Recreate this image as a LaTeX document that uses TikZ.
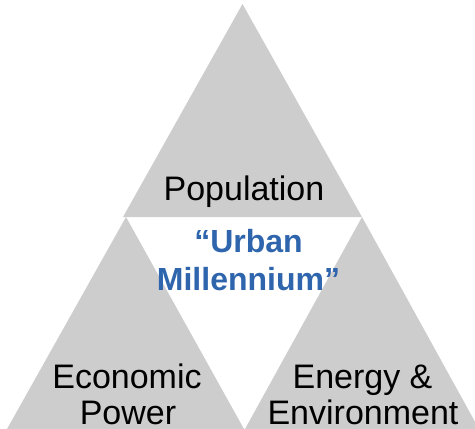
\documentclass[tikz,border=0pt]{standalone}
\usepackage{fontspec}
\setmainfont{Liberation Sans}
\definecolor{trigray}{RGB}{205,205,205}
\definecolor{urbanblue}{RGB}{46,101,173}
\begin{document}
\begin{tikzpicture}[x=1pt,y=-1pt,
  tri/.style={fill=trigray,draw=none},
  lbl/.style={anchor=base,inner sep=0pt,font=\fontsize{34}{36}\selectfont,text=black},
  ctr/.style={anchor=base,inner sep=0pt,font=\fontsize{32}{38}\selectfont\bfseries,text=urbanblue}]
\useasboundingbox (0,0) rectangle (475,429);
% triangles
\fill[tri] (242.5,4) -- (123,217) -- (362,217) -- cycle;
\fill[tri] (126,217) -- (7,429) -- (244,429) -- cycle;
\fill[tri] (362,217) -- (245,429) -- (479,429) -- cycle;
% labels
\node[lbl] (pop) at (244,200.7) {Population};
\node[ctr] (urb1) at (248.5,252) {“Urban};
\node[ctr] (urb2) at (248.5,290.7) {Millennium”};
\node[lbl] (eco1) at (127,388.3) {Economic};
\node[lbl] (eco2) at (128,424) {Power};
\node[lbl] (ene1) at (362.5,388) {Energy \&};
\node[lbl] (ene2) at (363,424) {Environment};
\end{tikzpicture}
\end{document}
